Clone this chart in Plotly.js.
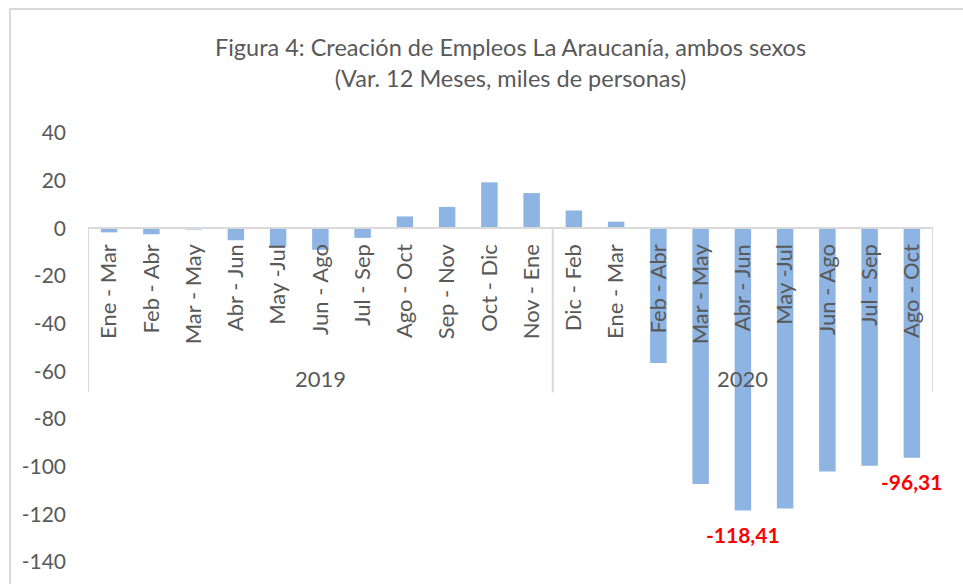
<!DOCTYPE html>
<html>
<head>
<meta charset="utf-8">
<script src="https://cdn.plot.ly/plotly-3.0.1.min.js"></script>
<style>html,body{margin:0;padding:0;background:#fff;}#chart{width:963px;height:584px;}</style>
</head>
<body>
<div id="chart"></div>
<script>
const years = ["2019", "2020"];
const periods2019 = ["Ene - Mar", "Feb - Abr", "Mar - May", "Abr - Jun", "May -Jul", "Jun - Ago", "Jul - Sep", "Ago - Oct", "Sep - Nov", "Oct - Dic", "Nov - Ene"];
const periods2020 = ["Dic - Feb", "Ene - Mar", "Feb - Abr", "Mar - May", "Abr - Jun", "May -Jul", "Jun - Ago", "Jul - Sep", "Ago - Oct"];
const values2019 = [-1.7, -2.5, -0.5, -5.0, -7.5, -9.0, -4.0, 5.0, 9.0, 19.3, 14.8];
const values2020 = [7.5, 2.8, -56.5, -107.3, -118.41, -117.6, -102.0, -99.6, -96.31];
const yTicks = [40, 20, 0, -20, -40, -60, -80, -100, -120, -140];
const highlighted = ["-118,41", "-96,31"];

const cats = periods2019.concat(periods2020);
const vals = values2019.concat(values2020);
const idx = cats.map((c, i) => i);
const groupSizes = [periods2019.length, periods2020.length];

const fontFam = "Lato, 'Open Sans', sans-serif";
const grey = "#595959";
const axisCol = "#D9D9D9";

const trace = {
  type: "bar",
  x: idx,
  y: vals,
  marker: {color: "#8EB4E3", line: {width: 0}},
  width: 0.39,
  hoverinfo: "skip"
};

const fmt = v => v.toFixed(2).replace(".", ",");
const annotations = [];
// year labels
let start = 0;
years.forEach((yr, g) => {
  const end = start + groupSizes[g] - 1;
  annotations.push({
    x: (start + end) / 2, y: 0, xref: "x", yref: "y",
    text: yr, showarrow: false, yanchor: "middle", yshift: -150,
    font: {family: fontFam, size: 22, color: grey}
  });
  start = end + 1;
});
// highlighted value labels
highlighted.forEach(txt => {
  const i = vals.findIndex(v => fmt(v) === txt);
  annotations.push({
    x: i, y: vals[i], xref: "x", yref: "y",
    text: "<b>" + txt + "</b>", showarrow: false, yanchor: "middle", yshift: -24,
    font: {family: fontFam, size: 21, color: "#FF0000"}
  });
});

// dividers
const shapes = [];
const bounds = [-0.5, groupSizes[0] - 0.5, cats.length - 0.5];
bounds.forEach(b => {
  shapes.push({
    type: "line", xref: "x", yref: "y", ysizemode: "pixel", yanchor: 0,
    x0: b, x1: b, y0: 0, y1: -164,
    line: {color: axisCol, width: 2}
  });
});
// outer chart frame
shapes.push({
  type: "rect", xref: "paper", yref: "paper",
  x0: -0.0923, x1: 1.2, y0: -0.2, y1: 1.289,
  line: {color: axisCol, width: 2}, layer: "below"
});

const layout = {
  width: 963, height: 584,
  margin: {l: 88, r: 30, t: 133, b: 22},
  paper_bgcolor: "#fff", plot_bgcolor: "rgba(0,0,0,0)",
  showlegend: false,
  title: {
    text: "Figura 4: Creación de Empleos La Araucanía, ambos sexos<br>(Var. 12 Meses, miles de personas)",
    x: 0.5, xref: "paper", xanchor: "center",
    y: 1 - 56 / 584, yref: "container", yanchor: "middle",
    font: {family: fontFam, size: 23.5, color: grey}
  },
  xaxis: {
    type: "linear", range: [-0.5, cats.length - 0.5],
    tickmode: "array", tickvals: idx, ticktext: cats, tickangle: -90,
    anchor: "free", position: 140 / 180,
    showline: true, linecolor: axisCol, linewidth: 2,
    showgrid: false, zeroline: false, ticks: "",
    ticklabelstandoff: 6,
    tickfont: {family: fontFam, size: 22, color: grey},
    fixedrange: true
  },
  yaxis: {
    range: [-140, 40], tickmode: "array", tickvals: yTicks,
    ticktext: yTicks.map(String),
    showgrid: false, zeroline: false, showline: false, ticks: "",
    ticklabelstandoff: 21,
    tickfont: {family: fontFam, size: 21, color: grey},
    fixedrange: true
  },
  annotations: annotations,
  shapes: shapes
};

Plotly.newPlot("chart", [trace], layout, {displayModeBar: false, staticPlot: true});
</script>
</body>
</html>
